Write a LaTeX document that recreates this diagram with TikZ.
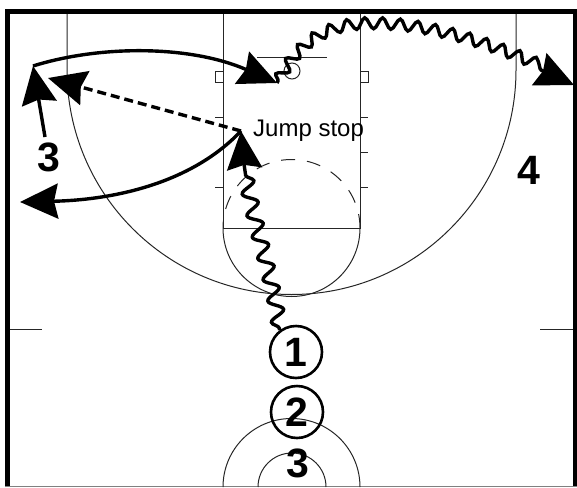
\documentclass[tikz,border=0pt]{standalone}
\usepackage{fontspec}
\setmainfont{Liberation Sans}
\usetikzlibrary{arrows.meta,decorations.pathmorphing}

\begin{document}
\begin{tikzpicture}[
  x=1pt, y=-1pt,
  court/.style={line width=1pt, black!85},
  player/.style={draw, circle, line width=2.6pt, minimum size=52pt, inner sep=0pt,
                 font=\fontsize{41}{41}\selectfont\bfseries},
  tag/.style={font=\fontsize{41}{41}\selectfont\bfseries},
  move/.style={line width=3.4pt, -{Stealth[length=38pt,width=35pt,inset=4pt]}},
  pass/.style={move, dashed, dash pattern=on 9pt off 5pt},
  dribble/.style={line width=3.4pt, -{Stealth[length=38pt,width=35pt,inset=4pt]}, decorate,
                  decoration={snake, segment length=22pt, amplitude=7pt,
                              pre length=2pt, post length=36pt}},
  longdribble/.style={dribble,
                  decoration={snake, segment length=17.5pt, amplitude=5.5pt,
                              pre length=2pt, post length=36pt}}
]
  \useasboundingbox (0,0) rectangle (577,487);

  % --- court outline ------------------------------------------------
  \draw[line width=5pt] (7.5,487) -- (7.5,11.5) -- (575,11.5) -- (575,487);
  \draw[court, black!50] (5,486) -- (577,486);
  \draw[court] (10,329) -- (42,329);
  \draw[court] (540,329) -- (573,329);

  % --- three point line ---------------------------------------------
  \draw[court] (67,14) -- (67,70) arc[start angle=180, end angle=360, radius=224.5pt] -- (516,14);

  % --- lane ----------------------------------------------------------
  \draw[court] (223,14) -- (223,228) -- (360,228) -- (360,14);
  \draw[court] (223,228) arc[start angle=180, end angle=360, radius=68.5pt];
  \draw[court, dash pattern=on 14pt off 12pt] (360,228) arc[start angle=0, end angle=180, radius=68.5pt];
  \draw[court] (215,71) rectangle (223,82);
  \draw[court] (360,71) rectangle (368,82);
  \foreach \y in {117,187} \draw[court] (215,\y) -- (223,\y);
  \foreach \y in {117,152,187} \draw[court] (360,\y) -- (368,\y);

  % --- basket ---------------------------------------------------------
  \draw[court] (257,57) -- (327,57);
  \draw[court] (292,71) circle[radius=8pt];

  % --- bottom circles --------------------------------------------------
  \draw[court] (223,487) arc[start angle=180, end angle=0, radius=68.5pt];
  \draw[court] (258,487) arc[start angle=180, end angle=0, radius=34pt];

  % --- players and labels ----------------------------------------------
  \node[player] (one) at (296,352) {1};
  \node[player] (two) at (297,412) {2};
  \node[tag] (three) at (298,463) {3};
  \node[tag] (wing) at (49,157) {3};
  \node[tag] (corner) at (529,170) {4};
  \node[font=\fontsize{24}{24}\selectfont, inner sep=0pt, anchor=west] (jump) at (253,131) {Jump stop};

  % --- end points ------------------------------------------------------
  \coordinate (cut) at (45,137);
  \coordinate (catch) at (33,66);
  \coordinate (elbow) at (241,131);
  \coordinate (kick) at (48,78);
  \coordinate (drive) at (20,202);
  \coordinate (rim) at (277,83);
  \coordinate (top) at (370,27);
  \coordinate (side) at (574,85);

  % --- arrows ----------------------------------------------------------
  \draw[move] (cut) -- (catch);
  \draw[move] (catch) .. controls (100,45) and (190,45) .. (rim);
  \draw[pass] (elbow) -- (kick);
  \draw[move] (elbow) .. controls (190,185) and (110,200) .. (drive);
  \draw[dribble] (one.127) .. controls (272,270) and (245,210) .. (elbow);
  \draw[longdribble] (rim) .. controls (300,40) and (330,27) .. (top)
    .. controls (440,27) and (510,55) .. (side);
\end{tikzpicture}
\end{document}
